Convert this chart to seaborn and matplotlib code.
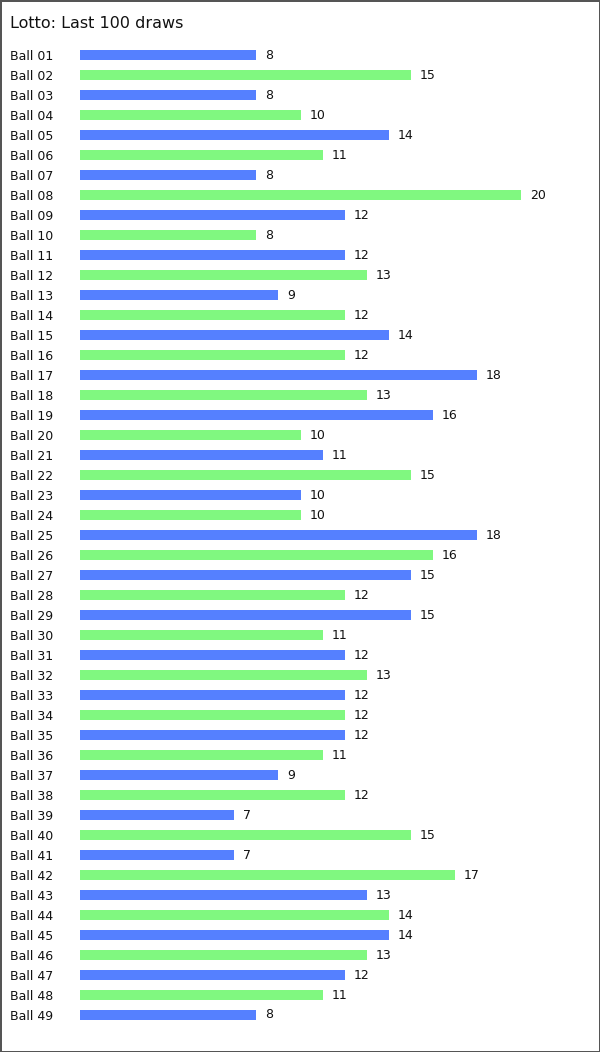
import matplotlib
matplotlib.use("Agg")
import matplotlib.pyplot as plt
import seaborn as sns
import pandas as pd

balls = [f"Ball {i:02d}" for i in range(1, 50)]
counts = [8, 15, 8, 10, 14, 11, 8, 20, 12, 8,
          12, 13, 9, 12, 14, 12, 18, 13, 16, 10,
          11, 15, 10, 10, 18, 16, 15, 12, 15, 11,
          12, 13, 12, 12, 12, 11, 9, 12, 7, 15,
          7, 17, 13, 14, 14, 13, 12, 11, 8]
groups = ["odd" if i % 2 == 1 else "even" for i in range(1, 50)]
palette = {"odd": "#5580FF", "even": "#80F880"}
title = "Lotto: Last 100 draws"

df = pd.DataFrame({"ball": balls, "count": counts, "group": groups})

sns.set_theme(style="white")
plt.rcParams["font.family"] = ["DejaVu Sans"]

W, H = 600, 1052
fig = plt.figure(figsize=(W / 100, H / 100), dpi=100)
ax = fig.add_axes([80 / W, 1 - 1025 / H, 500 / W, 980 / H])

sns.barplot(data=df, x="count", y="ball", hue="group", palette=palette,
            dodge=False, width=0.5, legend=False, ax=ax, saturation=1,
            linewidth=0, order=balls)

ax.set_xlim(0, 500 / 22.05)
ax.set_ylim(48.5, -0.5)
for cont in ax.containers:
    ax.bar_label(cont, padding=6.5, fontsize=9, color="#111111")

ax.set_xlabel("")
ax.set_ylabel("")
ax.set_xticks([])
for s in ax.spines.values():
    s.set_visible(False)
ax.tick_params(axis="y", length=0, pad=70 * 0.72, labelsize=9, labelcolor="#111111")
for lbl in ax.get_yticklabels():
    lbl.set_horizontalalignment("left")

fig.text(10 / W, 1 - 24 / H, title, fontsize=11.5, ha="left", va="center", color="#111111")

fig.patch.set_facecolor("white")
fig.patch.set_edgecolor("#555555")
fig.patch.set_linewidth(2)

fig.savefig("out.png", dpi=100, facecolor=fig.get_facecolor(), edgecolor=fig.get_edgecolor())
